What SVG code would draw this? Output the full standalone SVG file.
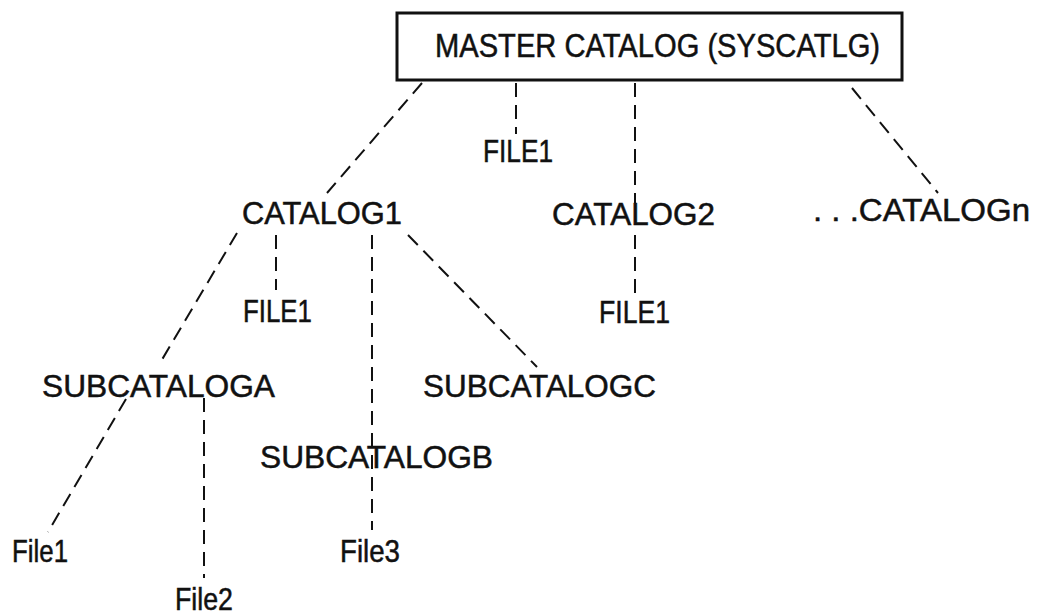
<svg xmlns="http://www.w3.org/2000/svg" width="1044" height="615" viewBox="0 0 1044 615">
<style>
.t{font-family:"Liberation Sans",Arial,Helvetica,sans-serif;font-size:30.5px;fill:#111;stroke:#111;stroke-width:0.5;}
.m{font-size:32.5px;}
.c line{stroke:#111;stroke-width:2;stroke-dasharray:14 8;fill:none;}
.box{fill:#fff;stroke:#111;stroke-width:3;}
</style>
<rect width="1044" height="615" fill="#fff"/>
<g id="connectors" class="c">
<line x1="422" y1="83" x2="327" y2="193"/>
<line x1="516" y1="83" x2="516" y2="134"/>
<line x1="635" y1="83" x2="635" y2="203"/>
<line x1="635" y1="235" x2="635" y2="295"/>
<line x1="852" y1="88" x2="938" y2="193"/>
<line x1="237" y1="233" x2="160" y2="363"/>
<line x1="276" y1="235" x2="276" y2="290"/>
<line x1="372" y1="235" x2="372" y2="530"/>
<line x1="408" y1="235" x2="537" y2="367"/>
<line x1="126" y1="399" x2="48" y2="532"/>
<line x1="204" y1="398" x2="204" y2="578"/>
</g>
<g id="master">
<rect class="box" x="397" y="13" width="505" height="67"/>
<text class="t m" x="435" y="57" textLength="445" lengthAdjust="spacingAndGlyphs">MASTER CATALOG (SYSCATLG)</text>
</g>
<g id="file1-top"><text class="t" x="483" y="162" textLength="70" lengthAdjust="spacingAndGlyphs">FILE1</text></g>
<g id="catalog1"><text class="t" x="242" y="224" textLength="160" lengthAdjust="spacingAndGlyphs">CATALOG1</text></g>
<g id="catalog2"><text class="t" x="552" y="225" textLength="163" lengthAdjust="spacingAndGlyphs">CATALOG2</text></g>
<g id="catalogn"><text class="t" x="813" y="221" textLength="217" lengthAdjust="spacingAndGlyphs">. . .CATALOGn</text></g>
<g id="file1-cat1"><text class="t" x="243" y="322" textLength="69" lengthAdjust="spacingAndGlyphs">FILE1</text></g>
<g id="file1-cat2"><text class="t" x="599" y="323" textLength="71" lengthAdjust="spacingAndGlyphs">FILE1</text></g>
<g id="subcataloga"><text class="t" x="42" y="397" textLength="233" lengthAdjust="spacingAndGlyphs">SUBCATALOGA</text></g>
<g id="subcatalogc"><text class="t" x="423" y="397" textLength="233" lengthAdjust="spacingAndGlyphs">SUBCATALOGC</text></g>
<g id="subcatalogb"><text class="t" x="260" y="468" textLength="233" lengthAdjust="spacingAndGlyphs">SUBCATALOGB</text></g>
<g id="file1"><text class="t" x="12" y="562" textLength="56" lengthAdjust="spacingAndGlyphs">File1</text></g>
<g id="file2"><text class="t" x="175" y="610" textLength="58" lengthAdjust="spacingAndGlyphs">File2</text></g>
<g id="file3"><text class="t" x="340" y="562" textLength="60" lengthAdjust="spacingAndGlyphs">File3</text></g>
</svg>
